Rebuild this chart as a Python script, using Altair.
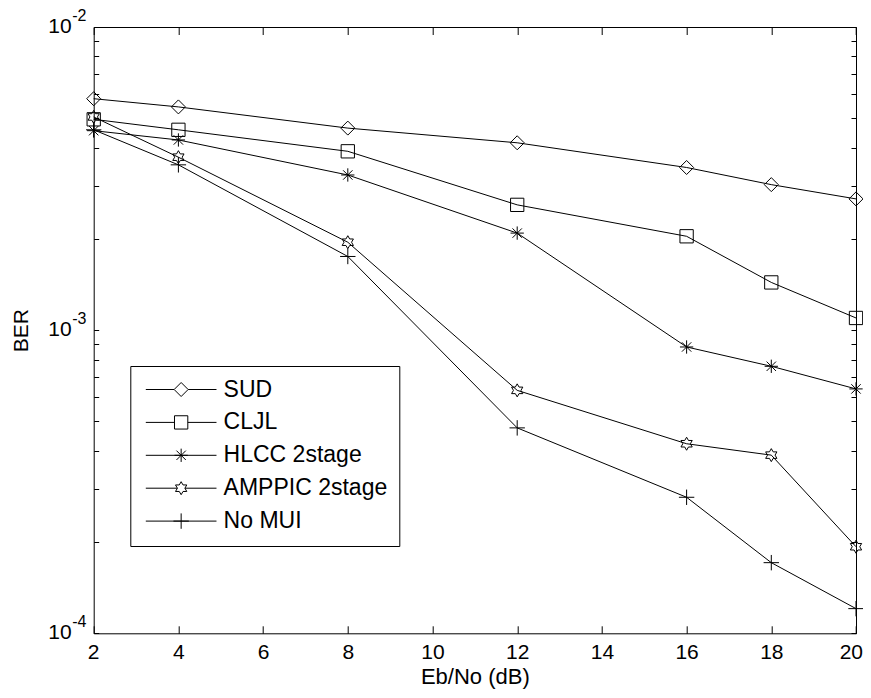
import math
import altair as alt
import pandas as pd

# ---------------- data ----------------
ebno = [2, 4, 8, 12, 16, 18, 20]
series_names = ["SUD", "CLJL", "HLCC 2stage", "AMPPIC 2stage", "No MUI"]
sud = [5.8e-3, 5.45e-3, 4.64e-3, 4.15e-3, 3.44e-3, 3.02e-3, 2.71e-3]
cljl = [4.96e-3, 4.58e-3, 3.89e-3, 2.59e-3, 2.04e-3, 1.437e-3, 1.097e-3]
hlcc = [4.55e-3, 4.24e-3, 3.25e-3, 2.09e-3, 8.8e-4, 7.6e-4, 6.4e-4]
amppic = [5.05e-3, 3.72e-3, 1.95e-3, 6.33e-4, 4.22e-4, 3.87e-4, 1.93e-4]
nomui = [4.58e-3, 3.51e-3, 1.75e-3, 4.76e-4, 2.81e-4, 1.71e-4, 1.206e-4]

x_ticks = [2, 4, 6, 8, 10, 12, 14, 16, 18, 20]
y_ticks = [k * 10.0 ** e for e in (-4, -3) for k in range(1, 10)] + [1e-2]
y_label_values = [1e-4, 1e-3, 1e-2]
y_label_base = ["10", "10", "10"]
y_label_exp = ["-4", "-3", "-2"]

rows = []
for name, vals in zip(series_names, [sud, cljl, hlcc, amppic, nomui]):
    for x, v in zip(ebno, vals):
        rows.append({"ebno": x, "ber": v, "series": name})
df = pd.DataFrame(rows)
ylab = pd.DataFrame({"v": y_label_values, "base": y_label_base, "exp": y_label_exp})

# ---------------- marker geometry (unit coords, r = sqrt(size)/2) ----------------
def poly(pts, dx=0.0):
    return "M" + "L".join(f"{x + dx:.3f},{y:.3f}" for x, y in pts) + "Z"

def segs(segments, dx=0.0):
    return "".join(f"M{a + dx:.3f},{b:.3f}L{c + dx:.3f},{d:.3f}" for a, b, c, d in segments)

diamond = [(-1, 0), (0, -1), (1, 0), (0, 1)]
sq = 0.95
square = [(-sq, -sq), (sq, -sq), (sq, sq), (-sq, sq)]
ast = [(-0.95, 0, 0.95, 0), (0, -0.95, 0, 0.95), (-0.67, -0.67, 0.67, 0.67), (-0.67, 0.67, 0.67, -0.67)]
R = 0.93
hexa = []
for i in range(12):
    ang = math.radians(-90 + 30 * i)
    r = R if i % 2 == 0 else R / math.sqrt(3)
    hexa.append((r * math.cos(ang), r * math.sin(ang)))
plus = [(-1.1, 0, 1.1, 0), (0, -1.1, 0, 1.1)]

data_paths = [poly(diamond), poly(square), segs(ast), poly(hexa), segs(plus)]

C = 4.05  # legend marker centre (units)
L0, L1 = -1.0, 9.1
half_gap = [1.0, sq, 0.0, R / math.sqrt(3), 0.0]
legend_paths = []
for p, g in zip(
    [poly(diamond, C), poly(square, C), segs(ast, C), poly(hexa, C), segs(plus, C)], half_gap
):
    line = f"M{L0},0L{C - g:.3f},0M{C + g:.3f},0L{L1},0"
    legend_paths.append(line + p)

# ---------------- chart ----------------
FONT = "Liberation Sans"
W, H = 762.3, 606.3

xscale = alt.Scale(domain=[2, 20], nice=False, zero=False)
yscale = alt.Scale(type="log", domain=[1e-4, 1e-2], nice=False)

bottom_axis = alt.Axis(
    orient="bottom", values=x_ticks, offset=-7.5, tickSize=7.5, tickColor="black",
    domain=False, grid=False, labelFontSize=21, labelFont=FONT, labelColor="black",
    labelPadding=8.5, labelFlush=True, labelFlushOffset=6.5, labelOverlap=False, format="d",
    title="Eb/No (dB)", titleFont=FONT, titleFontSize=22, titleFontWeight="normal",
    titleColor="black", titlePadding=3.9,
)
top_axis = alt.Axis(
    orient="top", values=x_ticks, offset=-7.5, tickSize=7.5, tickColor="black",
    domain=False, grid=False, labels=False, title=None,
)
left_axis = alt.Axis(
    orient="left", values=y_ticks, offset=-5, tickSize=5, tickColor="black",
    domain=False, grid=False, labels=False,
    title="BER", titleFont=FONT, titleFontSize=21, titleFontWeight="normal",
    titleColor="black", titlePadding=62,
)
right_axis = alt.Axis(
    orient="right", values=y_ticks, offset=-5, tickSize=5, tickColor="black",
    domain=False, grid=False, labels=False, title=None,
)

base = alt.Chart(df)

lines = base.mark_line(color="black", strokeWidth=1).encode(
    x=alt.X("ebno:Q", scale=xscale, axis=bottom_axis),
    y=alt.Y("ber:Q", scale=yscale, axis=left_axis),
    detail="series:N",
    order="ebno:Q",
)

points = base.mark_point(filled=False, color="black", opacity=1, size=196, strokeWidth=1).encode(
    x=alt.X("ebno:Q", scale=xscale, axis=top_axis),
    y=alt.Y("ber:Q", scale=yscale, axis=right_axis),
    shape=alt.Shape("series:N", scale=alt.Scale(domain=series_names, range=data_paths), legend=None),
)

ytxt = alt.Chart(ylab).mark_text(
    align="right", baseline="middle", fontSize=21, font=FONT, color="black"
).encode(
    x=alt.value(-22),
    y=alt.Y("v:Q", scale=yscale, axis=None),
    text="base:N",
)
yexp = alt.Chart(ylab).mark_text(
    align="left", baseline="middle", fontSize=16, font=FONT, color="black", dy=-11
).encode(
    x=alt.value(-21.5),
    y=alt.Y("v:Q", scale=yscale, axis=None),
    text="exp:N",
)

legend_layer = base.mark_point(filled=False, color="black", opacity=1, size=196, strokeWidth=1).encode(
    shape=alt.Shape(
        "series:N",
        scale=alt.Scale(domain=series_names, range=legend_paths),
        legend=alt.Legend(
            orient="none", legendX=36.6, legendY=339, title=None,
            strokeColor="black", fillColor="white", padding=12, rowPadding=8.9,
            labelOffset=59.3, labelFontSize=23, labelFont=FONT, labelColor="black",
            labelLimit=400, symbolSize=196, symbolStrokeWidth=1, symbolOffset=-1,
            symbolStrokeColor="black", symbolFillColor="transparent", symbolOpacity=1,
            cornerRadius=0,
        ),
    )
).transform_filter("false")

chart = (
    alt.layer(lines, points, ytxt, yexp, legend_layer)
    .resolve_scale(shape="independent")
    .resolve_axis(x="independent", y="independent")
    .properties(
        width=W,
        height=H,
        padding={"left": 85.7, "top": 19, "right": 7, "bottom": 56.7},
        autosize=alt.AutoSizeParams(type="none"),
        background="white",
    )
    .configure_view(stroke="black", strokeWidth=1)
)

chart.save("out.html", embed_options={"renderer": "svg", "actions": False})
